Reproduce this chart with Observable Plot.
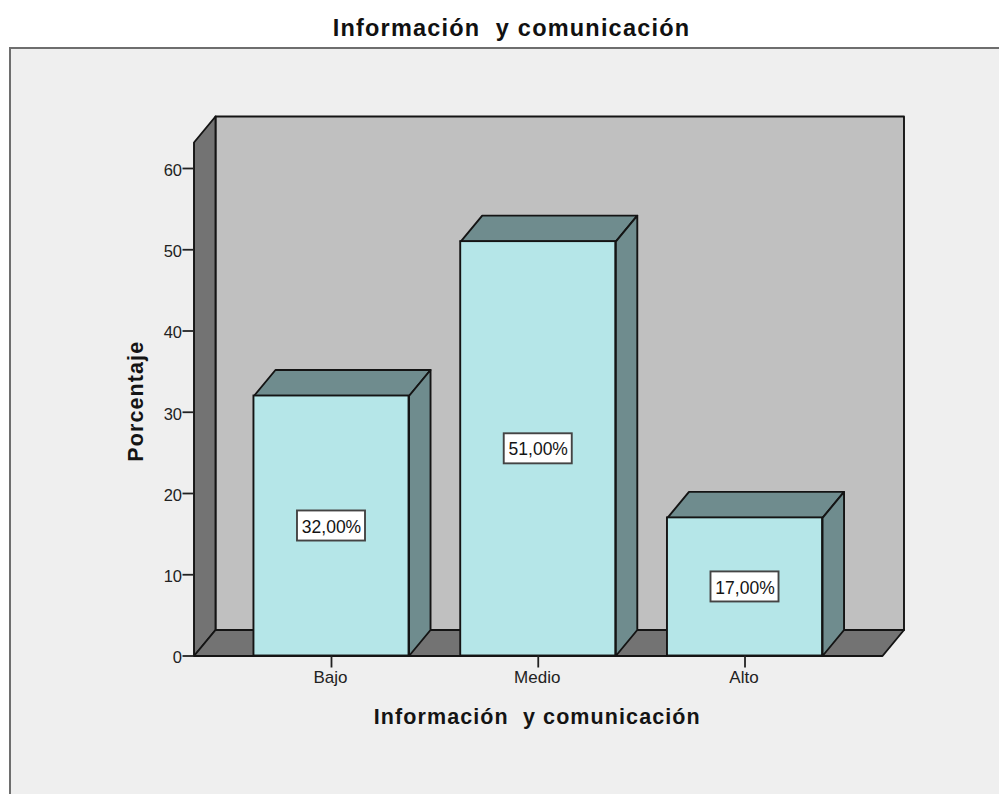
<!DOCTYPE html>
<html><head><meta charset="utf-8">
<script src="https://cdn.jsdelivr.net/npm/d3@7"></script>
<script src="https://cdn.jsdelivr.net/npm/@observablehq/plot@0.6"></script>
<style>
html,body{margin:0;padding:0;background:#fff;overflow:hidden}
#title{height:47px;text-align:center;font:bold 23.5px/57px "Liberation Sans",Arial,sans-serif;letter-spacing:1.2px;color:#111;white-space:pre;padding-left:24px;box-sizing:border-box;width:999px}
#frame{position:absolute;left:9px;top:47px;width:990px;height:747px;background:#efefef;border-left:2px solid #6e6e6e;border-top:2px solid #6e6e6e;box-sizing:border-box}
#chart{position:absolute;left:0;top:47px}
svg{background:transparent!important;display:block}
</style></head>
<body>
<div id="title">Información  y comunicación</div>
<div id="frame"></div>
<div id="chart"></div>
<script>
const categories = ["Bajo", "Medio", "Alto"];
const percentages = [32, 51, 17];
const labels = ["32,00%", "51,00%", "17,00%"];
const yTicks = [0, 10, 20, 30, 40, 50, 60];
const xLabel = "Información  y comunicación";
const yLabel = "Porcentaje";

const INK = "#141414";
const xMin = -0.665, xMax = 2.665, yTop = 63.2;
const dx = 0.104, dy = 3.2;
const barHalf = 0.375, boxW = 0.1645, boxH = 1.85;

const poly = (id, pts) => [...pts, pts[0]].map(([x, y]) => ({id, x, y}));
const faceMark = (rows, fill) => Plot.line(rows, {x: "x", y: "y", z: "id", fill, stroke: INK, strokeWidth: 1.9, curve: "linear"});

const leftWall = poly("left", [[xMin,0],[xMin+dx,dy],[xMin+dx,yTop+dy],[xMin,yTop]]);
const floor = poly("floor", [[xMin,0],[xMax,0],[xMax+dx,dy],[xMin+dx,dy]]);
const backWall = poly("back", [[xMin+dx,dy],[xMax+dx,dy],[xMax+dx,yTop+dy],[xMin+dx,yTop+dy]]);

const bars = categories.map((c, i) => ({c, i, v: percentages[i], label: labels[i]}));
const barTops = bars.flatMap(b => poly("t"+b.i, [[b.i-barHalf,b.v],[b.i+barHalf,b.v],[b.i+barHalf+dx,b.v+dy],[b.i-barHalf+dx,b.v+dy]]));
const barSides = bars.flatMap(b => poly("s"+b.i, [[b.i+barHalf,0],[b.i+barHalf+dx,dy],[b.i+barHalf+dx,b.v+dy],[b.i+barHalf,b.v]]));

const plot = Plot.plot({
  width: 999, height: 747,
  marginLeft: 193.5, marginRight: 117, marginTop: 69, marginBottom: 138.5,
  x: {domain: [xMin, xMax], axis: null},
  y: {domain: [0, yTop + dy], axis: null},
  style: {fontFamily: '"Liberation Sans",Arial,sans-serif', color: "#222", background: "transparent", overflow: "visible"},
  marks: [
    faceMark(backWall, "#c0c0c0"),
    faceMark(leftWall, "#737373"),
    faceMark(floor, "#737373"),
    faceMark(barTops, "#6f8c8e"),
    faceMark(barSides, "#6f8c8e"),
    Plot.rect(bars, {x1: b => b.i - barHalf, x2: b => b.i + barHalf, y1: 0, y2: "v", fill: "#b5e6e8", stroke: INK, strokeWidth: 1.9}),
    Plot.rect(bars, {x1: b => b.i - boxW, x2: b => b.i + boxW, y1: b => b.v/2 - boxH, y2: b => b.v/2 + boxH, fill: "#fff", stroke: "#444", strokeWidth: 1.9}),
    Plot.text(bars, {x: "i", y: b => b.v/2, dy: 1, text: "label", fontSize: 17.5, fill: INK}),
    Plot.axisY({ticks: yTicks, tickSize: 11, text: null, strokeWidth: 1.8, label: null}),
    Plot.axisY({ticks: yTicks, tickSize: 0, tickPadding: 12, dy: 2, fontSize: 16.5, label: null, tickFormat: d => d}),
    Plot.axisX({ticks: categories.map((c, i) => i), tickSize: 12, text: null, strokeWidth: 1.8, label: null}),
    Plot.axisX({ticks: categories.map((c, i) => i), tickSize: 0, tickPadding: 15, dx: -1, fontSize: 17, label: null, tickFormat: i => categories[i]}),
    Plot.text([yLabel], {frameAnchor: "left", textAnchor: "middle", dx: -58, dy: 15, rotate: -90, fontSize: 21.5, fontWeight: "bold", fill: INK, text: d => d}),
    Plot.text([xLabel], {frameAnchor: "bottom", dy: 68, dx: -1, fontSize: 21.5, fontWeight: "bold", fill: INK, text: d => d})
  ]
});
plot.querySelectorAll("text").forEach(t => { if (t.textContent === xLabel || t.textContent === yLabel) t.style.letterSpacing = "1.1px"; });
document.getElementById("chart").appendChild(plot);
</script>
</body></html>
